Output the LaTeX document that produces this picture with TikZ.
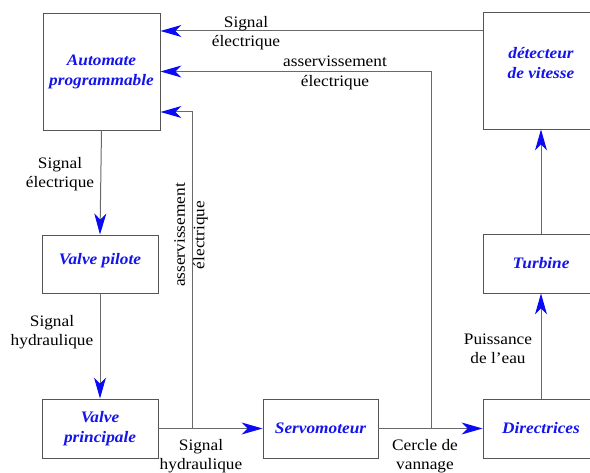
\documentclass[tikz,border=0pt]{standalone}
\usepackage{fontspec}
\setmainfont{Liberation Serif}[FakeStretch=1.08]
\usetikzlibrary{arrows.meta,positioning,calc}
\definecolor{TextBlue}{RGB}{20,20,235}
\definecolor{HeadBlue}{RGB}{10,10,245}
\definecolor{LineGray}{RGB}{105,105,105}
\definecolor{EdgeGray}{RGB}{85,85,85}
\tikzset{
  arr/.style={-{Stealth[length=21pt,width=12pt,inset=6pt,color=HeadBlue]}, line width=1pt, draw=LineGray},
  box/.style={
    draw=EdgeGray, line width=0.9pt, fill=white, align=center, inner sep=0pt,
    font=\fontsize{16}{20}\selectfont\bfseries\itshape, text=TextBlue
  },
  sig/.style={align=center, inner sep=0pt, font=\fontsize{16}{19.5}\selectfont},
}

\begin{document}
\begin{tikzpicture}[x=1pt,y=-1pt]
\useasboundingbox (0,0) rectangle (590,473);

% ---- Left column ----
\node[box, minimum width=117pt, minimum height=117pt] (auto) at (101.5,71.5)
  {Automate\\programmable};
\node[box, minimum width=116pt, minimum height=58pt] (pil) at (100,264)
  {Valve pilote\rule[-10pt]{0pt}{10pt}};
\node[box, minimum width=116pt, minimum height=59pt] (pri) at (100,428.5) {Valve\\principale};

% ---- Bottom row ----
\node[box, minimum width=115pt, minimum height=59pt] (servo) at (320.5,428.5) {Servomoteur};
\node[box, minimum width=116pt, minimum height=59pt] (dir) at (541,428.5) {Directrices};

% ---- Right column ----
\node[box, minimum width=116pt, minimum height=59pt] (turb) at (541,263.5) {Turbine};
\node[box, minimum width=116pt, minimum height=117pt] (det) at (541,70.5)
  {détecteur\\de vitesse\rule[-16pt]{0pt}{16pt}};

% ---- Junctions ----
\coordinate (j1) at (192,428.5);
\coordinate (j2) at (431,428.5);

% ---- Arrows ----
\draw[arr] (auto.south) -- (pil.north);
\draw[arr] (pil.south) -- (pri.north);
\draw[arr] (pri.east) -- (servo.west);
\draw[arr] (servo.east) -- (dir.west);
\draw[arr] (dir.north) -- (turb.south);
\draw[arr] (turb.north) -- (det.south);
\draw[arr] ([yshift=39.5pt]det.west) -- ([yshift=40.5pt]auto.east);
\draw[arr] (j2) |- (auto.east);
\draw[arr] (j1) |- ([yshift=-40.5pt]auto.east);

% ---- Labels ----
\node[sig] (s1) at (246,33) {Signal\\électrique};
\node[sig] (s2) at (335,73) {asservissement\\électrique};
\node[sig] (s3) at (60,174) {Signal\\électrique};
\node[sig, rotate=90] (s4) at (191,235) {asservissement\\électrique};
\node[sig] (s5) at (52,332) {Signal\\hydraulique};
\node[sig] (s6) at (201,456) {Signal\\hydraulique};
\node[sig] (s7) at (425,456) {Cercle de\\vannage};
\node[sig] (s8) at (498,349) {Puissance\\de l'eau};

\end{tikzpicture}
\end{document}
